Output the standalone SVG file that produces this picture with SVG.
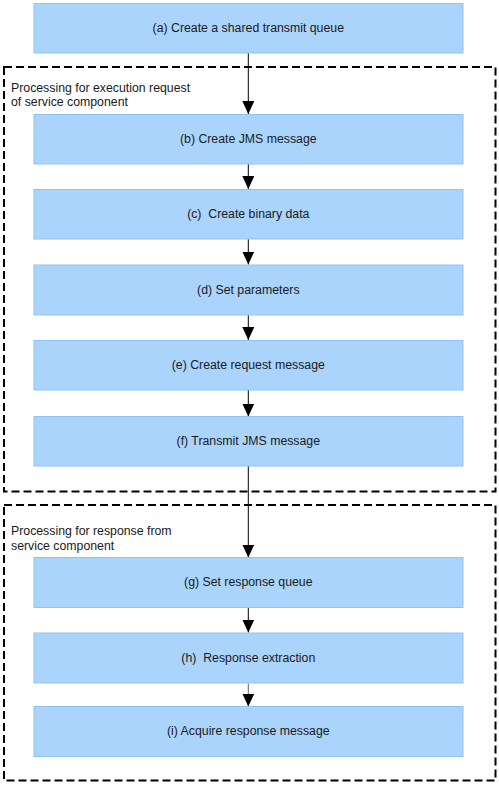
<svg xmlns="http://www.w3.org/2000/svg" width="499" height="785" viewBox="0 0 499 785">
<style>
.box{fill:#aad4fc;stroke:#90c4f4;stroke-width:1}
.t{font-family:"Liberation Sans",Arial,sans-serif;font-size:12.3px;fill:#1a1a1a;text-anchor:middle;white-space:pre}
.lbl{font-family:"Liberation Sans",Arial,sans-serif;font-size:12.3px;fill:#1a1a1a}
.grp{fill:none;stroke:#000;stroke-width:2;stroke-dasharray:8 4}
.c{stroke:#000;stroke-width:1;fill:none;marker-end:url(#ah)}
</style>
<defs>
<marker id="ah" markerWidth="13" markerHeight="12" refX="13" refY="6" orient="auto" markerUnits="userSpaceOnUse" viewBox="0 0 13 12">
<path d="M0,0 L13,6 L0,12 Z" fill="#000"/>
</marker>
</defs>
<g id="group1"><rect class="grp" x="4" y="67" width="491.5" height="424.5"/><text class="lbl" x="11" y="91.5">Processing for execution request</text><text class="lbl" x="11" y="106">of service component</text></g>
<g id="group2"><rect class="grp" x="4" y="505" width="491.5" height="275.5"/><text class="lbl" x="11" y="535">Processing for response from</text><text class="lbl" x="11" y="550">service component</text></g>
<g id="connectors">
<line class="c" x1="248.3" y1="53" x2="248.3" y2="114"/>
<line class="c" x1="248.3" y1="164" x2="248.3" y2="189"/>
<line class="c" x1="248.3" y1="239" x2="248.3" y2="264.5"/>
<line class="c" x1="248.3" y1="315" x2="248.3" y2="340"/>
<line class="c" x1="248.3" y1="390" x2="248.3" y2="416.5"/>
<line class="c" x1="248.3" y1="466" x2="248.3" y2="557.5"/>
<line class="c" x1="248.3" y1="607.5" x2="248.3" y2="632.5"/>
<line class="c" x1="248.3" y1="683.5" x2="248.3" y2="706.5" style="stroke:#666"/>
</g>
<g id="a"><rect class="box" x="34" y="3.5" width="429" height="49.5"/><text class="t" x="248.3" y="32">(a) Create a shared transmit queue</text></g>
<g id="b"><rect class="box" x="34" y="114.5" width="429" height="49.5"/><text class="t" x="248.3" y="143">(b) Create JMS message</text></g>
<g id="c"><rect class="box" x="34" y="189.5" width="429" height="49.5"/><text class="t" x="248.3" y="218">(c)  Create binary data</text></g>
<g id="d"><rect class="box" x="34" y="265" width="429" height="50"/><text class="t" x="248.3" y="294">(d) Set parameters</text></g>
<g id="e"><rect class="box" x="34" y="340.5" width="429" height="49.5"/><text class="t" x="248.3" y="369">(e) Create request message</text></g>
<g id="f"><rect class="box" x="34" y="416.5" width="429" height="49.5"/><text class="t" x="248.3" y="445">(f) Transmit JMS message</text></g>
<g id="g"><rect class="box" x="34" y="557.5" width="429" height="50"/><text class="t" x="248.3" y="586">(g) Set response queue</text></g>
<g id="h"><rect class="box" x="34" y="633" width="429" height="50"/><text class="t" x="248.3" y="662">(h)  Response extraction</text></g>
<g id="i"><rect class="box" x="34" y="706.5" width="429" height="50"/><text class="t" x="248.3" y="735">(i) Acquire response message</text></g>
</svg>
